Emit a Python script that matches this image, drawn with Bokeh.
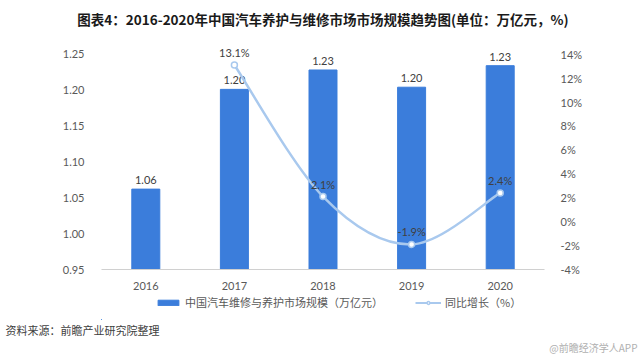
from bokeh.plotting import figure
from bokeh.layouts import column
from bokeh.models import (Range1d, LinearAxis, FixedTicker, PrintfTickFormatter,
                          Legend, LegendItem, Title, ColumnDataSource, NumeralTickFormatter)
from bokeh.embed import file_html
from bokeh.resources import INLINE

years = ["2016", "2017", "2018", "2019", "2020"]
market = [1.062, 1.201, 1.228, 1.204, 1.234]
market_labels = ["1.06", "1.20", "1.23", "1.20", "1.23"]
growth_years = ["2017", "2018", "2019", "2020"]
growth = [13.1, 2.1, -1.9, 2.4]
growth_labels = ["13.1%", "2.1%", "-1.9%", "2.4%"]
left_ticks = [0.95, 1.00, 1.05, 1.10, 1.15, 1.20, 1.25]
right_ticks = [-4, -2, 0, 2, 4, 6, 8, 10, 12, 14]

title_text = "图表4：2016-2020年中国汽车养护与维修市场市场规模趋势图(单位：万亿元，%)"
bar_name = "中国汽车维修与养护市场规模（万亿元）"
line_name = "同比增长（%）"
source_text = "资料来源：前瞻产业研究院整理"
mark_text = "@前瞻经济学人APP"

BAR = "#3b7ddb"
LINE = "#a9c9ee"
TXT = "#595959"
CJK = "Noto Sans CJK SC"
NUM = "Lato"

W = 640
H_MAIN, H_FOOT = 292, 62
FRAME_TOP, FRAME_BOTTOM, FRAME_LEFT, FRAME_RIGHT = 30, 272, 101, 544
AXIS_TOP = 54  # canvas y of the top tick (1.25 / 14%)
extra = (AXIS_TOP - FRAME_TOP) / (FRAME_BOTTOM - AXIS_TOP)

p = figure(width=W, height=H_MAIN, output_backend="svg", toolbar_location=None,
           x_range=Range1d(-0.5, 4.5),
           y_range=Range1d(0.95, 1.25 + 0.30 * extra),
           min_border_left=FRAME_LEFT, min_border_right=W - FRAME_RIGHT,
           min_border_top=FRAME_TOP, min_border_bottom=H_MAIN - FRAME_BOTTOM,
           outline_line_color=None,
           background_fill_color="white", border_fill_color="white")
p.grid.visible = False
p.title.text = title_text
p.title.align = "center"
p.title.text_font = CJK
p.title.text_font_size = "13.5px"
p.title.text_font_style = "bold"
p.title.text_color = "#1a1a1a"
p.title.standoff = 4

xs = list(range(len(years)))
src = ColumnDataSource(dict(x=xs, top=market, lab=market_labels))
p.vbar(x="x", top="top", bottom=0.95, width=0.316, color=BAR, source=src)
p.text(x="x", y="top", text="lab", source=src, text_align="center",
       text_baseline="bottom", y_offset=-5, text_font_size="11px",
       text_color="#404040", text_font={"value": NUM})

p.extra_y_ranges = {"pct": Range1d(-4, 14 + 18 * extra)}
gx = [years.index(y) for y in growth_years]

# smooth curve (Catmull-Rom -> cubic bezier) through the growth points
n = len(gx)
x0s, y0s, x1s, y1s, c0x, c0y, c1x, c1y = [], [], [], [], [], [], [], []
for i in range(n - 1):
    xa, ya = gx[i], growth[i]
    xb, yb = gx[i + 1], growth[i + 1]
    xp, yp = (gx[i - 1], growth[i - 1]) if i > 0 else (xa, ya)
    xn, yn = (gx[i + 2], growth[i + 2]) if i + 2 < n else (xb, yb)
    t = 6.0
    x0s.append(xa); y0s.append(ya); x1s.append(xb); y1s.append(yb)
    c0x.append(xa + (xb - xp) / t); c0y.append(ya + (yb - yp) / t)
    c1x.append(xb - (xn - xa) / t); c1y.append(yb - (yn - ya) / t)
p.bezier(x0=x0s, y0=y0s, x1=x1s, y1=y1s, cx0=c0x, cy0=c0y, cx1=c1x, cy1=c1y,
         line_color=LINE, line_width=2.5, y_range_name="pct")
gsrc = ColumnDataSource(dict(x=gx, y=growth, lab=growth_labels))
p.scatter(x="x", y="y", source=gsrc, size=6, fill_color="white",
          line_color=LINE, line_width=1.5, y_range_name="pct")
p.text(x="x", y="y", text="lab", source=gsrc, text_align="center",
       text_baseline="bottom", y_offset=-6, text_font_size="11px",
       text_color="#404040", text_font={"value": NUM}, y_range_name="pct")

# axes
p.xaxis.ticker = FixedTicker(ticks=xs)
p.xaxis.major_label_overrides = {i: y for i, y in zip(xs, years)}
p.xaxis.axis_line_color = "#d0d0d0"
p.xaxis.axis_line_width = 1.2
p.xaxis.major_tick_line_color = None
p.xaxis.minor_tick_line_color = None
p.xaxis.major_label_standoff = 6
p.xaxis.major_label_text_font_size = "11px"
p.xaxis.major_label_text_color = TXT
p.xaxis.major_label_text_font = NUM

p.yaxis.ticker = FixedTicker(ticks=left_ticks)
p.yaxis.formatter = NumeralTickFormatter(format="0.00")
p.yaxis.axis_line_color = None
p.yaxis.major_tick_line_color = None
p.yaxis.minor_tick_line_color = None
p.yaxis.major_label_standoff = 11
p.yaxis.major_label_text_font_size = "11px"
p.yaxis.major_label_text_color = TXT
p.yaxis.major_label_text_font = NUM

ry = LinearAxis(y_range_name="pct", ticker=FixedTicker(ticks=right_ticks),
                formatter=PrintfTickFormatter(format="%d%%"))
ry.axis_line_color = None
ry.major_tick_line_color = None
ry.minor_tick_line_color = None
ry.major_label_standoff = 10
ry.major_label_text_font_size = "11px"
ry.major_label_text_color = TXT
ry.major_label_text_font = NUM
p.add_layout(ry, "right")

# footer figure: legend + source note (its frame is aligned with the main frame)
q = figure(width=W, height=H_FOOT, output_backend="svg", toolbar_location=None,
           x_range=Range1d(100, 101), y_range=Range1d(100, 101),
           x_axis_location=None, y_axis_location=None,
           min_border_left=FRAME_LEFT, min_border_right=W - FRAME_RIGHT,
           min_border_top=0, min_border_bottom=29, outline_line_color=None,
           background_fill_color="white", border_fill_color="white")
q.grid.visible = False
# legend proxies: same styles as the chart's series, kept outside the footer's view
sw_bar = q.vbar(x=xs, top=market, width=0.316, color=BAR)
sw_line = q.line(x=gx, y=growth, line_color=LINE, line_width=2)
sw_pt = q.scatter(x=gx, y=growth, size=5, fill_color="white", line_color=LINE,
                  line_width=1.5)
legend = Legend(items=[LegendItem(label=bar_name, renderers=[sw_bar]),
                       LegendItem(label=line_name, renderers=[sw_line, sw_pt])],
                orientation="horizontal", location=(54, 9),
                glyph_width=26, glyph_height=7, label_standoff=4, spacing=32,
                label_text_font_size="11px", label_text_color=TXT,
                label_text_font=CJK, background_fill_alpha=0,
                border_line_color=None, padding=0, margin=0)
q.add_layout(legend, "center")
q.add_layout(Title(text=source_text, align="left", offset=5 - FRAME_LEFT,
                   text_font=CJK, text_font_size="11px", text_font_style="normal",
                   text_color="#404040", standoff=0), "below")
q.add_layout(Title(text=mark_text, align="right", offset=FRAME_RIGHT - (W - 3),
                   text_font=CJK, text_font_size="10px", text_font_style="normal",
                   text_color="#b0b0b0", standoff=0), "below")

layout = column(p, q, spacing=0)
open("out.html", "w").write(file_html(layout, INLINE))
